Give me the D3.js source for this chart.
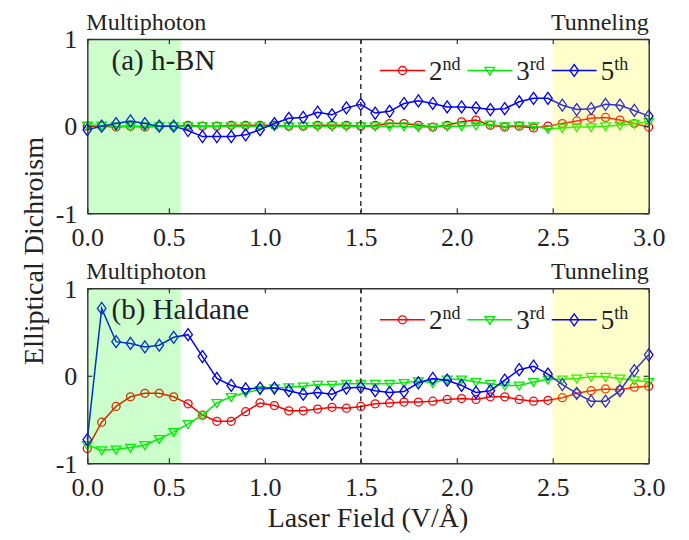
<!DOCTYPE html>
<html>
<head>
<meta charset="utf-8">
<script src="https://cdn.jsdelivr.net/npm/d3@7"></script>
<style>
  html, body { margin: 0; padding: 0; background: #fff; }
  svg { display: block; font-family: "Liberation Serif", "Times New Roman", serif; }
</style>
</head>
<body>
<svg id="chart" width="689" height="540"></svg>
<script>
// ---------------- data ----------------
const xField = [0.075, 0.15, 0.225, 0.3, 0.375, 0.45, 0.525, 0.6, 0.675, 0.75,
  0.825, 0.9, 0.975, 1.05, 1.125, 1.2, 1.275, 1.35, 1.425, 1.5,
  1.575, 1.65, 1.725, 1.8, 1.875, 1.95, 2.025, 2.1, 2.175, 2.25,
  2.325, 2.4, 2.475, 2.55, 2.625, 2.7, 2.775, 2.85, 2.925, 3.0];

const hbn2nd = [0.0, 0.0, -0.01, 0.0, -0.01, 0.0, 0.0, 0.01, 0.0, 0.0,
  0.01, 0.01, 0.01, 0.01, 0.0, 0.0, 0.01, 0.01, 0.01, 0.0,
  0.01, 0.03, 0.03, 0.01, -0.01, 0.01, 0.05, 0.07, 0.01, -0.01,
  0.0, -0.02, 0.0, 0.03, 0.06, 0.09, 0.10, 0.07, 0.03, -0.01];
const hbn3rd = [0.01, 0.01, 0.0, 0.0, 0.0, 0.0, 0.0, 0.0, 0.0, 0.0,
  0.0, 0.0, 0.0, 0.0, 0.0, 0.0, 0.0, 0.0, 0.0, 0.0,
  0.0, 0.0, 0.0, -0.01, -0.01, 0.0, 0.0, 0.01, 0.02, 0.0,
  0.01, 0.0, -0.03, -0.02, -0.01, -0.01, 0.0, 0.01, 0.03, 0.05];
const hbn5th = [-0.04, 0.0, 0.03, 0.06, 0.03, 0.0, 0.0, -0.05, -0.12, -0.12,
  -0.12, -0.10, -0.04, 0.03, 0.09, 0.10, 0.16, 0.13, 0.21, 0.25,
  0.15, 0.17, 0.26, 0.29, 0.26, 0.22, 0.22, 0.21, 0.19, 0.20,
  0.28, 0.32, 0.32, 0.24, 0.19, 0.20, 0.25, 0.24, 0.18, 0.115];

const hal2nd = [-0.83, -0.53, -0.35, -0.24, -0.20, -0.20, -0.24, -0.32, -0.45, -0.52,
  -0.52, -0.41, -0.31, -0.34, -0.40, -0.40, -0.38, -0.36, -0.37, -0.35,
  -0.32, -0.31, -0.30, -0.30, -0.29, -0.27, -0.26, -0.27, -0.24, -0.24,
  -0.27, -0.29, -0.28, -0.25, -0.20, -0.17, -0.15, -0.16, -0.13, -0.12];
const hal3rd = [-0.79, -0.85, -0.84, -0.82, -0.79, -0.72, -0.64, -0.55, -0.45, -0.31,
  -0.24, -0.19, -0.16, -0.14, -0.13, -0.12, -0.10, -0.10, -0.09, -0.09,
  -0.09, -0.09, -0.08, -0.06, -0.08, -0.04, -0.04, -0.07, -0.09, -0.11,
  -0.11, -0.07, -0.04, -0.04, -0.03, -0.01, -0.01, -0.03, -0.05, -0.07];
const hal5th = [-0.73, 0.77, 0.39, 0.37, 0.33, 0.35, 0.44, 0.47, 0.22, -0.03,
  -0.11, -0.15, -0.14, -0.14, -0.17, -0.21, -0.19, -0.21, -0.14, -0.13,
  -0.17, -0.19, -0.18, -0.08, -0.03, -0.05, -0.11, -0.19, -0.17, -0.05,
  0.07, 0.11, 0.02, -0.10, -0.20, -0.29, -0.29, -0.17, 0.06, 0.24];

const seriesNames = ["2nd", "3rd", "5th"];
const seriesBase = ["2", "3", "5"];
const seriesSup = ["nd", "rd", "th"];
const xTickValues = [0.075, 0.5, 1.0, 1.5, 2.0, 2.5, 3.0];
const xTickLabels = ["0.0", "0.5", "1.0", "1.5", "2.0", "2.5", "3.0"];
const yTickValues = [-1, 0, 1];
const yTickLabels = ["-1", "0", "1"];
const panelTitles = ["(a) h-BN", "(b) Haldane"];
const multiphotonRange = [0.075, 0.562];
const tunnelingRange = [2.5, 3.0];
const dashedAt = 1.5;

// ---------------- layout ----------------
const FONT = '"Liberation Serif", "Times New Roman", serif';
const colors = ["#ff0000", "#00ee00", "#0000ff"];
const svg = d3.select("#chart");
const left = 87.3, right = 648.7;
const x = d3.scaleLinear().domain([0.075, 3.0]).range([left, right]);

const panels = [
  { top: 39, bottom: 213.3, title: panelTitles[0], data: [hbn2nd, hbn3rd, hbn5th] },
  { top: 288.3, bottom: 463.3, title: panelTitles[1], data: [hal2nd, hal3rd, hal5th] }
];

function markerPath(i) {
  if (i === 0) return d3.symbol().type(d3.symbolCircle).size(50)();
  if (i === 1) return "M-4.8,-3.2L4.8,-3.2L0,4.6Z";
  return "M0,-6L4.3,0L0,6L-4.3,0Z";
}
function txt(sel) {
  return sel.style("font-family", FONT).attr("fill", "#222");
}

panels.forEach((p) => {
  const y = d3.scaleLinear().domain([-1, 1]).range([p.bottom, p.top]);
  const g = svg.append("g");

  // series lines + markers
  p.data.forEach((vals, si) => {
    const pts = vals.map((v, k) => [xField[k], v]);
    g.append("path")
      .datum(pts)
      .attr("fill", "none")
      .attr("stroke", colors[si])
      .attr("stroke-width", 1.5)
      .attr("d", d3.line().x(d => x(d[0])).y(d => y(d[1])));
    g.selectAll(null).data(pts).enter().append("path")
      .attr("d", markerPath(si))
      .attr("transform", d => `translate(${x(d[0])},${y(d[1])})`)
      .attr("fill", "none")
      .attr("stroke", colors[si])
      .attr("stroke-width", 1.3);
  });

  // shaded regions (drawn on top, semi-transparent)
  g.append("rect")
    .attr("x", x(multiphotonRange[0])).attr("y", p.top)
    .attr("width", x(multiphotonRange[1]) - x(multiphotonRange[0]))
    .attr("height", p.bottom - p.top)
    .attr("fill", "#00ff00").attr("fill-opacity", 0.2);
  g.append("rect")
    .attr("x", x(tunnelingRange[0])).attr("y", p.top)
    .attr("width", x(tunnelingRange[1]) - x(tunnelingRange[0]))
    .attr("height", p.bottom - p.top)
    .attr("fill", "#ffff00").attr("fill-opacity", 0.2);

  // dashed vertical line
  g.append("line")
    .attr("x1", x(dashedAt)).attr("x2", x(dashedAt))
    .attr("y1", p.top).attr("y2", p.bottom)
    .attr("stroke", "#333").attr("stroke-width", 1.5)
    .attr("stroke-dasharray", "5,4");

  // axes
  const axColor = "#333";
  const bottomAxis = d3.axisBottom(x).tickValues(xTickValues)
    .tickFormat((d, i) => xTickLabels[i]).tickSizeInner(-5).tickSizeOuter(0).tickPadding(14);
  const ab = g.append("g").attr("transform", `translate(0,${p.bottom})`).call(bottomAxis);
  const topAxis = d3.axisTop(x).tickValues(xTickValues).tickFormat("")
    .tickSizeInner(-5).tickSizeOuter(0);
  const at = g.append("g").attr("transform", `translate(0,${p.top})`).call(topAxis);
  const leftAxis = d3.axisLeft(y).tickValues(yTickValues)
    .tickFormat((d, i) => yTickLabels[i]).tickSizeInner(-5).tickSizeOuter(0).tickPadding(10);
  const al = g.append("g").attr("transform", `translate(${left},0)`).call(leftAxis);
  const rightAxis = d3.axisRight(y).tickValues(yTickValues).tickFormat("")
    .tickSizeInner(-5).tickSizeOuter(0);
  const ar = g.append("g").attr("transform", `translate(${right},0)`).call(rightAxis);

  [ab, at, al, ar].forEach(a => {
    a.select(".domain").attr("stroke", axColor).attr("stroke-width", 1.4);
    a.selectAll(".tick line").attr("stroke", axColor).attr("stroke-width", 1.2);
    txt(a.selectAll(".tick text")).attr("font-size", 26);
  });
  ab.selectAll(".tick text").attr("dy", "0.71em");
  al.selectAll(".tick text").attr("dy", "0.34em");

  // region labels
  txt(g.append("text")).attr("x", left - 1).attr("y", p.top - 9)
    .attr("font-size", 24).text("Multiphoton");
  txt(g.append("text")).attr("x", right).attr("y", p.top - 9)
    .attr("text-anchor", "end").attr("font-size", 24).text("Tunneling");

  // panel title
  txt(g.append("text")).attr("x", 111.5).attr("y", p.top + 31)
    .attr("font-size", 29).text(p.title);

  // legend
  const legX = [380, 467.3, 551.7];
  const legY = p.top + 31.5;
  seriesNames.forEach((name, si) => {
    const lg = g.append("g");
    lg.append("line")
      .attr("x1", legX[si]).attr("x2", legX[si] + 45)
      .attr("y1", legY).attr("y2", legY)
      .attr("stroke", colors[si]).attr("stroke-width", 1.5);
    lg.append("path")
      .attr("d", markerPath(si))
      .attr("transform", `translate(${legX[si] + 22.5},${legY})`)
      .attr("fill", "none").attr("stroke", colors[si]).attr("stroke-width", 1.3);
    const t = txt(lg.append("text"))
      .attr("x", legX[si] + 49).attr("y", legY + 9)
      .attr("font-size", 27);
    t.append("tspan").text(seriesBase[si]);
    t.append("tspan").attr("font-size", 18).attr("dy", -10).text(seriesSup[si]);
  });
});

// axis titles
txt(svg.append("text"))
  .attr("x", (left + right) / 2).attr("y", 527)
  .attr("text-anchor", "middle")
  .attr("font-size", 28)
  .text("Laser Field (V/Å)");
txt(svg.append("text"))
  .attr("transform", "translate(43,251) rotate(-90)")
  .attr("text-anchor", "middle")
  .attr("font-size", 28)
  .text("Elliptical Dichroism");
</script>
</body>
</html>
